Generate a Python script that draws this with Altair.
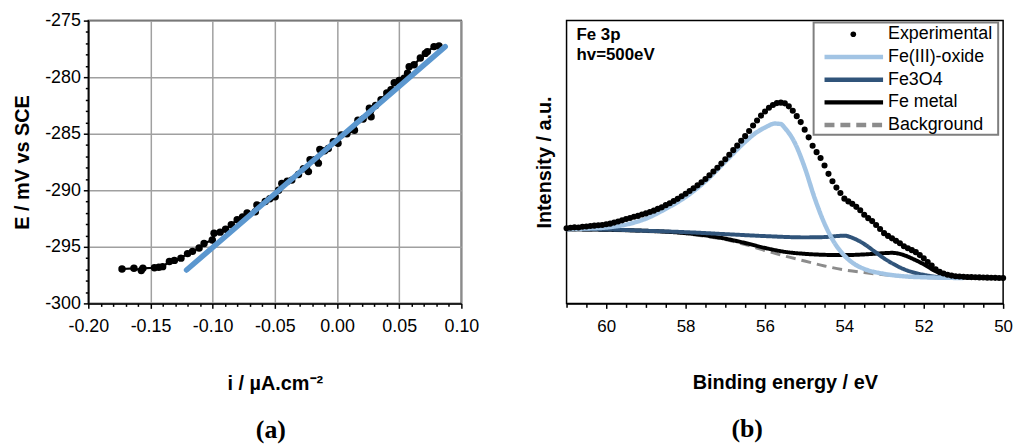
import altair as alt
import pandas as pd

FONT = "Liberation Sans"

# ---------------- panel (a): polarisation curve ----------------
i_exp = [-0.1729, -0.1633, -0.1574, -0.1561, -0.1468, -0.1433, -0.1402, -0.1348, -0.1308, -0.1255,
         -0.1202, -0.1162, -0.1109, -0.1069, -0.1003, -0.0989, -0.0940, -0.0896, -0.0850, -0.0803,
         -0.0760, -0.0723, -0.0657, -0.0644, -0.0577, -0.0540, -0.0497, -0.0470, -0.0444, -0.0400,
         -0.0364, -0.0310, -0.0270, -0.0230, -0.0217, -0.0180, -0.0150, -0.0138, -0.0100, -0.0070,
         -0.0030, 0.0008, 0.0035, 0.0080, 0.0140, 0.0168, 0.0210, 0.0260, 0.0274, 0.0310,
         0.0354, 0.0400, 0.0434, 0.0460, 0.0500, 0.0540, 0.0567, 0.0580, 0.0620, 0.0670,
         0.0710, 0.0727, 0.0780, 0.0820]
E_exp = [-296.96, -296.90, -297.10, -296.90, -296.85, -296.80, -296.75, -296.30, -296.20, -296.00,
         -295.60, -295.40, -295.10, -294.70, -294.40, -293.80, -293.70, -293.45, -293.05, -292.60,
         -292.35, -292.00, -291.90, -291.30, -291.00, -290.75, -290.57, -290.00, -289.40, -289.20,
         -289.10, -288.60, -288.10, -288.35, -287.30, -287.30, -287.60, -286.40, -286.50, -286.30,
         -285.70, -285.85, -285.10, -285.00, -284.70, -283.80, -283.70, -282.75, -283.50, -282.50,
         -282.00, -281.40, -281.10, -280.50, -280.30, -280.10, -279.65, -279.07, -278.90, -278.30,
         -277.90, -277.74, -277.30, -277.24]
i_fit = [-0.121, 0.087]
E_fit = [-297.05, -277.30]

xa_ticks = [round(-0.20 + 0.01 * k, 2) for k in range(31)]
ya_ticks = list(range(-300, -274))

# ---------------- panel (b): Fe 3p XPS ----------------
be_exp = [round(61.0 - 0.1 * k, 1) for k in range(111)]
int_exp = [76.3, 76.8, 77.2, 77.0, 77.8, 78.0, 78.6, 78.9, 79.3, 79.6,
           80.3, 80.9, 82.0, 83.1, 84.3, 85.7, 86.6, 87.9, 88.8, 90.2,
           91.3, 92.8, 94.1, 95.9, 97.5, 99.7, 101.6, 103.9, 106.1, 108.7,
           111.3, 114.0, 116.9, 119.8, 123.0, 126.3, 130.0, 133.8, 137.7, 141.9,
           146.3, 150.8, 155.5, 160.1, 165.0, 169.7, 175.0, 180.5, 185.6, 190.6,
           194.7, 198.5, 201.3, 203.3, 203.7, 203.0, 200.0, 195.5, 190.0, 184.0,
           176.3, 168.5, 160.0, 153.5, 147.5, 140.0, 131.5, 124.0, 117.5, 112.0,
           106.3, 103.5, 101.0, 98.0, 94.5, 90.0, 86.5, 83.5, 79.5, 75.5,
           71.3, 68.5, 66.0, 63.5, 61.0, 58.0, 56.0, 54.0, 52.0, 49.0,
           45.7, 42.0, 38.5, 34.5, 32.0, 30.3, 29.0, 28.2, 27.6, 27.3,
           27.0, 26.8, 26.7, 26.5, 26.4, 26.3, 26.1, 26.0, 25.9, 25.8,
           25.7]

fe3_be = [61.0, 60.5, 60.0, 59.5, 59.0, 58.5, 58.0, 57.5, 57.0, 56.5, 56.25, 56.0, 55.75, 55.6,
          55.5, 55.25, 55.0, 54.75, 54.5, 54.25, 54.0, 53.75, 53.5, 53.0, 52.5, 52.0, 51.5, 51.0]
fe3_int = [75.5, 76.0, 77.0, 80.0, 86.0, 96.0, 108.0, 124.0, 144.0, 164.0, 172.5, 178.5, 182.5, 182.0,
           178.0, 163.0, 138.0, 107.0, 81.0, 61.5, 48.5, 40.0, 35.0, 30.0, 27.5, 26.5, 26.0, 25.8]

fe3o4_be = [61.0, 60.0, 59.0, 58.0, 57.0, 56.0, 55.0, 54.5, 54.2, 54.0, 53.75, 53.5, 53.25, 53.0,
            52.75, 52.5, 52.25, 52.0, 51.5, 51.0]
fe3o4_int = [75.3, 75.0, 73.7, 72.3, 70.3, 68.3, 67.0, 67.3, 68.3, 68.7, 65.7, 60.3, 53.0, 45.7,
             39.7, 34.7, 31.3, 29.0, 26.3, 25.7]

fem_be = [61.0, 60.0, 59.0, 58.0, 57.5, 57.0, 56.5, 56.0, 55.5, 55.0, 54.5, 54.0, 53.5, 53.0,
          52.8, 52.5, 52.25, 52.0, 51.75, 51.5, 51.25, 51.0, 50.5]
fem_int = [75.3, 74.7, 73.7, 71.3, 69.0, 65.7, 61.3, 56.3, 52.3, 50.3, 49.3, 49.0, 49.7, 51.0,
           51.3, 49.0, 44.7, 39.7, 33.7, 29.0, 27.0, 26.3, 25.7]

bg_be = [61.0, 60.0, 59.0, 58.0, 57.5, 57.0, 56.5, 56.0, 55.5, 55.0, 54.5, 54.0, 53.5, 53.0,
         52.5, 52.0, 51.5, 51.0]
bg_int = [74.7, 74.0, 73.0, 70.7, 68.0, 64.7, 59.7, 53.7, 48.0, 43.0, 38.0, 34.0, 31.3, 29.0,
          27.3, 26.3, 25.7, 25.5]

series_names = ["Experimental", "Fe(III)-oxide", "Fe3O4", "Fe metal", "Background"]
series_colors = ["#000000", "#A2C4E4", "#30547A", "#000000", "#8C8C8C"]
series_widths = [0, 4.5, 4, 4, 3]
series_dash = [[1, 0], [1, 0], [1, 0], [1, 0], [10, 6]]

xb_ticks = [50 + 0.5 * k for k in range(23)]

# ================= panel (a) =================
major_xa = "abs(round(datum.value * 100)) % 5 == 0"
major_ya = "datum.value % 5 == 0"
xa = alt.X("i:Q",
           scale=alt.Scale(domain=[-0.2, 0.1], nice=False, zero=False),
           axis=alt.Axis(values=xa_ticks, title="i / µA.cm⁻²",
                         labelExpr=f"{major_xa} ? (datum.value < 0 ? '-' : '') + format(abs(datum.value), '.2f') : ''",
                         tickSize={"condition": {"test": major_xa, "value": 5}, "value": 3},
                         gridOpacity={"condition": {"test": major_xa, "value": 1}, "value": 0},
                         grid=True, labelOverlap=False, labelFlush=False, labelBound=False,
                         labelFontSize=18, labelPadding=9, titlePadding=39))
ya = alt.Y("E:Q",
           scale=alt.Scale(domain=[-300, -275], nice=False, zero=False),
           axis=alt.Axis(values=ya_ticks, title="E / mV vs SCE",
                         labelExpr=f"{major_ya} ? (datum.value < 0 ? '-' : '') + format(abs(datum.value), 'd') : ''",
                         tickSize={"condition": {"test": major_ya, "value": 5}, "value": 3},
                         gridOpacity={"condition": {"test": major_ya, "value": 1}, "value": 0},
                         grid=True, labelOverlap=False, labelFlush=False,
                         labelFontSize=18, labelPadding=3, titlePadding=12))

df_a = pd.DataFrame({"i": i_exp, "E": E_exp, "k": list(range(len(i_exp)))})
df_fit = pd.DataFrame({"i": i_fit, "E": E_fit})

a_line = alt.Chart(df_a).mark_line(color="black", strokeWidth=2.2).encode(x=xa, y=ya, order="k:Q")
a_pts = alt.Chart(df_a).mark_circle(color="black", size=56, opacity=1).encode(x=xa, y=ya)
a_fit = alt.Chart(df_fit).mark_line(color="#5B97CF", strokeWidth=5.5, strokeCap="round").encode(x=xa, y=ya)

panel_a = alt.layer(a_line, a_pts, a_fit).properties(
    width=376, height=285,
    title=alt.TitleParams("(a)", orient="bottom", font="Liberation Serif", fontSize=26,
                          fontWeight="bold", offset=24, dx=-4, anchor="middle"))

# ================= panel (b) =================
major_xb = "datum.value % 2 == 0"
xb = alt.X("be:Q",
           scale=alt.Scale(domain=[50, 61], reverse=True, nice=False, zero=False),
           axis=alt.Axis(values=xb_ticks, title="Binding energy  / eV",
                         labelExpr=f"{major_xb} ? format(datum.value, 'd') : ''",
                         tickSize={"condition": {"test": major_xb, "value": 5}, "value": 4},
                         grid=False, labelOverlap=False, labelFlush=False, labelBound=False,
                         labelFontSize=17, labelPadding=10, titlePadding=39))
yb = alt.Y("inten:Q",
           scale=alt.Scale(domain=[0, 287], nice=False, zero=False),
           axis=alt.Axis(title="Intensity  / a.u.", labels=False, ticks=False, domain=False,
                         grid=False, titlePadding=12))


def comp_layer(be, inten, name):
    k = series_names.index(name)
    df = pd.DataFrame({"be": be, "inten": inten})
    return alt.Chart(df).mark_line(color=series_colors[k], strokeWidth=series_widths[k],
                                   strokeDash=series_dash[k], interpolate="monotone").encode(x=xb, y=yb)


b_bg = comp_layer(bg_be, bg_int, "Background")
b_fem = comp_layer(fem_be, fem_int, "Fe metal")
b_fe3o4 = comp_layer(fe3o4_be, fe3o4_int, "Fe3O4")
b_fe3 = comp_layer(fe3_be, fe3_int, "Fe(III)-oxide")
b_exp = alt.Chart(pd.DataFrame({"be": be_exp, "inten": int_exp})).mark_circle(
    color="black", size=38, opacity=1).encode(x=xb, y=yb)

# legend built from the series names (positions are layout constants in pixels)
df_leg = pd.DataFrame({"series": series_names, "row": list(range(len(series_names)))})
leg_y = alt.Y("ly:Q", scale=None, axis=None)
leg_color = alt.Color("series:N", scale=alt.Scale(domain=series_names, range=series_colors), legend=None)
leg_dash = alt.StrokeDash("series:N", scale=alt.Scale(domain=series_names, range=series_dash), legend=None)

leg_base = alt.Chart(df_leg).transform_calculate(ly="13.7 + datum.row * 22.9")
leg_frame = alt.Chart(pd.DataFrame({"k": [0]})).mark_rect(
    fill="white", stroke="#7F7F7F", strokeWidth=2).encode(
    x=alt.value(249), x2=alt.value(435), y=alt.value(2), y2=alt.value(115))
leg_lines = leg_base.transform_filter("datum.row > 0").mark_rule(strokeWidth=4.5).encode(
    x=alt.value(260), x2=alt.value(319), y=leg_y, color=leg_color, strokeDash=leg_dash)
leg_dot = leg_base.transform_filter("datum.row == 0").mark_circle(
    color="black", size=32, opacity=1).encode(x=alt.value(289), y=leg_y)
leg_text = leg_base.mark_text(align="left", baseline="middle", font=FONT, fontSize=18,
                              color="black").encode(x=alt.value(324), y=leg_y, text="series:N")

df_note = pd.DataFrame({"txt": ["Fe 3p", "hv=500eV"], "row": [0, 1]})
notes = alt.Chart(df_note).transform_calculate(ly="15 + datum.row * 20").mark_text(
    align="left", baseline="middle", font=FONT, fontSize=17, fontWeight="bold", color="black").encode(
    x=alt.value(10), y=leg_y, text="txt:N")

panel_b = alt.layer(b_bg, b_fem, b_fe3o4, b_fe3, b_exp, leg_frame, leg_lines, leg_dot, leg_text,
                    notes).properties(
    width=440, height=285,
    title=alt.TitleParams("(b)", orient="bottom", font="Liberation Serif", fontSize=26,
                          fontWeight="bold", offset=24, dx=-38, anchor="middle"))

chart = alt.hconcat(panel_a, panel_b, spacing=54).properties(
    padding={"left": 12, "top": 9, "right": 5, "bottom": 5},
    background="white"
).configure_view(stroke="black", strokeWidth=1.5).configure_axis(
    labelFont=FONT, titleFont=FONT, titleFontSize=20, titleFontWeight="bold",
    labelColor="black", titleColor="black", domainColor="black", domainWidth=1.5,
    tickColor="black", tickWidth=1.5, gridColor="#A0A0A0", gridWidth=1.5
).configure_title(color="black")

chart.save("out.html", embed_options={"renderer": "svg", "actions": False})
